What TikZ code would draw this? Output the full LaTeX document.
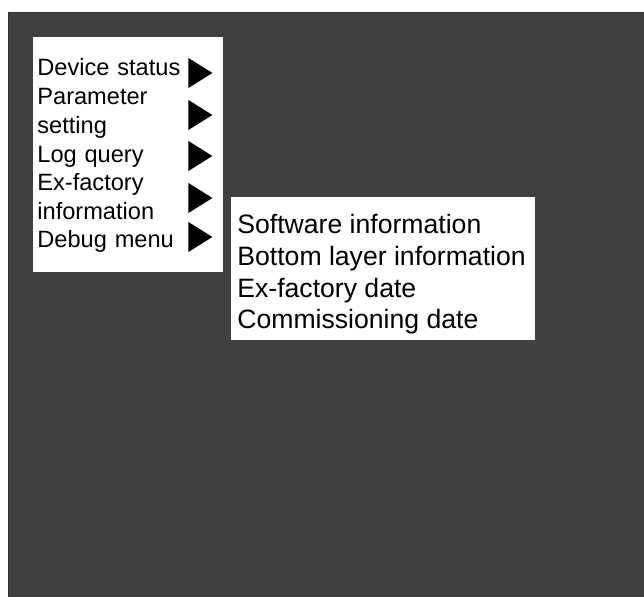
\documentclass[tikz,border=0pt]{standalone}
\usepackage{fontspec}
\setmainfont{Liberation Sans}
\usetikzlibrary{shapes.geometric}
\definecolor{panelgray}{HTML}{404040}

\tikzset{
  menubox/.style={fill=white, draw=black!75, line width=0.5pt},
  menuitem/.style={anchor=base west, inner sep=0pt, align=left, text width=74pt,
    font=\fontsize{11.8}{14.3}\selectfont},
  infoitem/.style={anchor=base west, inner sep=0pt, font=\fontsize{13.3}{15.6}\selectfont},
  menuarrow/.style={isosceles triangle, isosceles triangle stretches, fill=black,
    inner sep=0pt, minimum width=15pt, minimum height=12pt, anchor=west}
}

\begin{document}
\begin{tikzpicture}[x=0.5pt, y=-0.5pt]
	%%%%% START %%%%%
	\useasboundingbox (0,0) rectangle (644,597);
	\draw[fill=panelgray, draw=black!80] (8,12) rectangle (648,601);
	
	% main menu
	\draw[menubox] (32,37) rectangle (223,273);
	\node[menuitem] (status) at (37,76) {Device status};
	\node[menuitem] (param) at (37,105) {Parameter setting};
	\node[menuitem] (logq) at (37,163) {Log query};
	\node[menuitem] (exfact) at (37,191) {Ex-factory information};
	\node[menuitem] (debug) at (37,248) {Debug menu};
	
	\node[menuarrow] (statusarr) at (188,73) {};
	\node[menuarrow] (paramarr) at (188,115) {};
	\node[menuarrow] (logqarr) at (188,156) {};
	\node[menuarrow] (exfactarr) at (188,198) {};
	\node[menuarrow] (debugarr) at (188,237) {};
	
	% ex-factory submenu
	\draw[menubox] (230,197) rectangle (535,341);
	\node[infoitem] (software) at (237,234) {Software information};
	\node[infoitem] (bottom) at (237,266) {Bottom layer information};
	\node[infoitem] (exdate) at (237,298) {Ex-factory date};
	\node[infoitem] (commdate) at (237,329) {Commissioning date};
	
	%%%%% END %%%%%
\end{tikzpicture}
\end{document}
